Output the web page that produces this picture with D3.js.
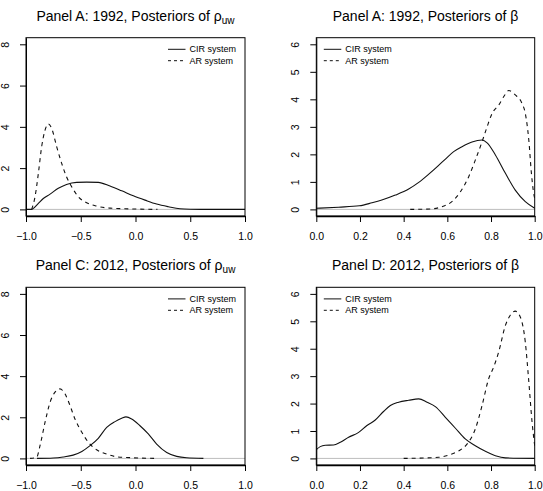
<!DOCTYPE html>
<html><head><meta charset="utf-8">
<script src="https://cdn.jsdelivr.net/npm/d3@7"></script>
<style>body{margin:0;background:#fff}svg{display:block}text{font-family:"Liberation Sans",Arial,sans-serif;fill:#000}</style>
</head><body><svg id="c" width="543" height="491"></svg>
<script>
// ---- data ----
const titles = ["Panel A: 1992, Posteriors of ", "Panel A: 1992, Posteriors of ", "Panel C: 2012, Posteriors of ", "Panel D: 2012, Posteriors of "];
const titleSymbols = ["ρ", "β", "ρ", "β"];
const titleSubs = ["uw", "", "uw", ""];
const seriesNames = ["CIR system", "AR system"];
const rhoTicksX = [-1.0, -0.5, 0.0, 0.5, 1.0];
const betaTicksX = [0.0, 0.2, 0.4, 0.6, 0.8, 1.0];
const rhoTicksY = [0, 2, 4, 6, 8];
const betaTicksY = [0, 1, 2, 3, 4, 5, 6];

// Panel A rho (1992)
const a_cir_x = [-1.0,-0.95,-0.933,-0.887,-0.842,-0.78,-0.705,-0.63,-0.537,-0.446,-0.34,-0.233,-0.126,-0.02,0.087,0.193,0.30,0.406,0.50,0.7,1.0];
const a_cir_y = [0,0,0.05,0.29,0.53,0.74,1.02,1.21,1.31,1.32,1.31,1.13,0.90,0.66,0.45,0.26,0.13,0.03,0.01,0,0];
const a_ar_x = [-0.948,-0.918,-0.887,-0.857,-0.826,-0.796,-0.766,-0.72,-0.674,-0.63,-0.583,-0.522,-0.446,-0.355,-0.233,-0.02,0.2];
const a_ar_y = [0,0.6,1.75,3.04,3.84,4.14,3.93,3.04,2.23,1.58,1.10,0.61,0.32,0.16,0.06,0.02,0];
// Panel A beta (1992)
const b_cir_x = [0,0.102,0.197,0.255,0.30,0.362,0.423,0.469,0.515,0.56,0.59,0.629,0.667,0.713,0.759,0.782,0.82,0.866,0.911,0.957,1.0];
const b_cir_y = [0.04,0.08,0.13,0.24,0.34,0.52,0.74,0.98,1.28,1.60,1.82,2.10,2.28,2.45,2.52,2.42,1.98,1.31,0.70,0.28,0.04];
const b_ar_x = [0.43,0.53,0.576,0.621,0.66,0.698,0.728,0.759,0.782,0.805,0.835,0.866,0.881,0.911,0.942,0.957,0.973,0.985,0.995,1.0];
const b_ar_y = [0,0.02,0.1,0.28,0.64,1.19,1.79,2.46,3.0,3.49,3.79,4.19,4.32,4.16,3.85,3.49,2.52,1.31,0.6,0.4];
// Panel C rho (2012)
const c_cir_x = [-0.9,-0.75,-0.66,-0.57,-0.49,-0.415,-0.34,-0.263,-0.187,-0.126,-0.087,-0.035,0.041,0.117,0.193,0.285,0.376,0.467,0.62];
const c_cir_y = [0,0.02,0.07,0.16,0.34,0.62,0.98,1.51,1.79,1.95,2.02,1.92,1.59,1.19,0.70,0.29,0.10,0.03,0];
const c_ar_x = [-0.963,-0.903,-0.872,-0.826,-0.78,-0.735,-0.69,-0.644,-0.598,-0.553,-0.49,-0.43,-0.355,-0.263,-0.172,-0.02,0.2];
const c_ar_y = [0,0.05,0.62,1.76,2.73,3.22,3.38,3.14,2.57,1.92,1.27,0.78,0.42,0.21,0.08,0.03,0];
// Panel D beta (2012)
const d_cir_x = [0,0.018,0.041,0.079,0.11,0.148,0.194,0.232,0.27,0.309,0.339,0.377,0.423,0.469,0.507,0.545,0.591,0.637,0.682,0.728,0.774,0.82,0.866,1.0];
const d_cir_y = [0.32,0.43,0.48,0.49,0.59,0.77,0.95,1.20,1.40,1.72,1.93,2.05,2.12,2.17,2.05,1.89,1.50,1.10,0.71,0.46,0.26,0.10,0.02,0];
const d_ar_x = [0.4,0.56,0.606,0.653,0.69,0.728,0.759,0.789,0.812,0.835,0.866,0.888,0.911,0.934,0.957,0.972,0.988,1.0];
const d_ar_y = [0,0.04,0.12,0.28,0.52,1.07,1.93,2.90,3.33,3.88,4.85,5.22,5.37,5.16,4.24,2.90,1.32,0.46];

const panelData = [
  {cir:[a_cir_x,a_cir_y], ar:[a_ar_x,a_ar_y], xd:[-1,1], xt:rhoTicksX, yt:rhoTicksY, fmt:d3.format(".1f")},
  {cir:[b_cir_x,b_cir_y], ar:[b_ar_x,b_ar_y], xd:[0,1], xt:betaTicksX, yt:betaTicksY, fmt:d3.format(".1f")},
  {cir:[c_cir_x,c_cir_y], ar:[c_ar_x,c_ar_y], xd:[-1,1], xt:rhoTicksX, yt:rhoTicksY, fmt:d3.format(".1f")},
  {cir:[d_cir_x,d_cir_y], ar:[d_ar_x,d_ar_y], xd:[0,1], xt:betaTicksX, yt:betaTicksY, fmt:d3.format(".1f")}
];
// layout
const boxes = [
  {l:26, r:245, t:37.7, b:216, legLeft:false, ylab:5, ty:20.7},
  {l:316.3, r:534.7, t:37.7, b:216, legLeft:true, ylab:295.5, ty:20.7},
  {l:26, r:245, t:287.3, b:465, legLeft:false, ylab:5, ty:270},
  {l:316.3, r:534.7, t:287.3, b:465, legLeft:true, ylab:295.5, ty:270}
];
const svg = d3.select("#c");
const defs = svg.append("defs");
panelData.forEach((p, i) => {
  const bx = boxes[i];
  const ymax = p.yt[p.yt.length-1];
  const pad = ymax*0.04;
  const x = d3.scaleLinear().domain(p.xd).range([bx.l, bx.r]);
  const y = d3.scaleLinear().domain([-pad, ymax+pad]).range([bx.b, bx.t]);
  const g = svg.append("g");
  defs.append("clipPath").attr("id","cp"+i).append("rect")
    .attr("x",bx.l).attr("y",bx.t).attr("width",bx.r-bx.l).attr("height",bx.b-bx.t);
  // zero line
  g.append("line").attr("x1",bx.l).attr("x2",bx.r).attr("y1",y(0)).attr("y2",y(0))
    .attr("stroke","#bebebe").attr("stroke-width",1);
  const line = d3.line().x(d=>x(d[0])).y(d=>y(d[1])).curve(d3.curveMonotoneX);
  const mk = arr => arr[0].map((v,k)=>[v,arr[1][k]]);
  g.append("path").attr("d",line(mk(p.cir))).attr("fill","none").attr("stroke","#111")
    .attr("stroke-width",1.1).attr("clip-path",`url(#cp${i})`);
  g.append("path").attr("d",line(mk(p.ar))).attr("fill","none").attr("stroke","#111")
    .attr("stroke-width",1.1).attr("stroke-dasharray","4,4").attr("clip-path",`url(#cp${i})`);
  // box
  g.append("rect").attr("x",bx.l).attr("y",bx.t).attr("width",bx.r-bx.l).attr("height",bx.b-bx.t)
    .attr("fill","none").attr("stroke","#000").attr("stroke-width",1);
  // x axis
  const xa = g.append("g").attr("transform",`translate(0,${bx.b})`)
    .call(d3.axisBottom(x).tickValues(p.xt).tickFormat(p.fmt).tickSize(6).tickSizeOuter(0));
  xa.select(".domain").attr("stroke-width",1.3);
  xa.selectAll("text").attr("font-size","10.5px").attr("y",23.5).attr("dy","0").attr("fill","#111")
    .text(d=>p.fmt(d).replace("-","\u2212"));
  // y axis
  const ya = g.append("g").attr("transform",`translate(${bx.l},0)`)
    .call(d3.axisLeft(y).tickValues(p.yt).tickSize(6).tickSizeOuter(0));
  ya.selectAll(".tick text").remove();
  ya.selectAll(".tick").append("text").attr("transform",`translate(${bx.ylab-bx.l},0) rotate(-90)`)
    .attr("text-anchor","middle").attr("dy","0.35em").attr("font-size","10.5px").attr("fill","#111").text(d=>d);
  // title
  const cx = (bx.l+bx.r)/2;
  const t = g.append("text").attr("x",cx).attr("y",bx.ty).attr("text-anchor","middle").attr("font-size","14px");
  t.append("tspan").text(titles[i]+titleSymbols[i]);
  if (titleSubs[i]) t.append("tspan").attr("font-size","10px").attr("dy","3").text(titleSubs[i]);
  // legend
  const lx = bx.legLeft ? bx.l+7.5 : bx.r-77;
  const rows = [bx.t+11.6, bx.t+23];
  seriesNames.forEach((nm,k)=>{
    g.append("line").attr("x1",lx).attr("x2",lx+17.5).attr("y1",rows[k]).attr("y2",rows[k])
      .attr("stroke","#111").attr("stroke-width",1).attr("stroke-dasharray",k?"3,3":null);
    g.append("text").attr("x",lx+21.5).attr("y",rows[k]).attr("dy","0.35em").attr("font-size","9px").text(nm);
  });
});
</script></body></html>
